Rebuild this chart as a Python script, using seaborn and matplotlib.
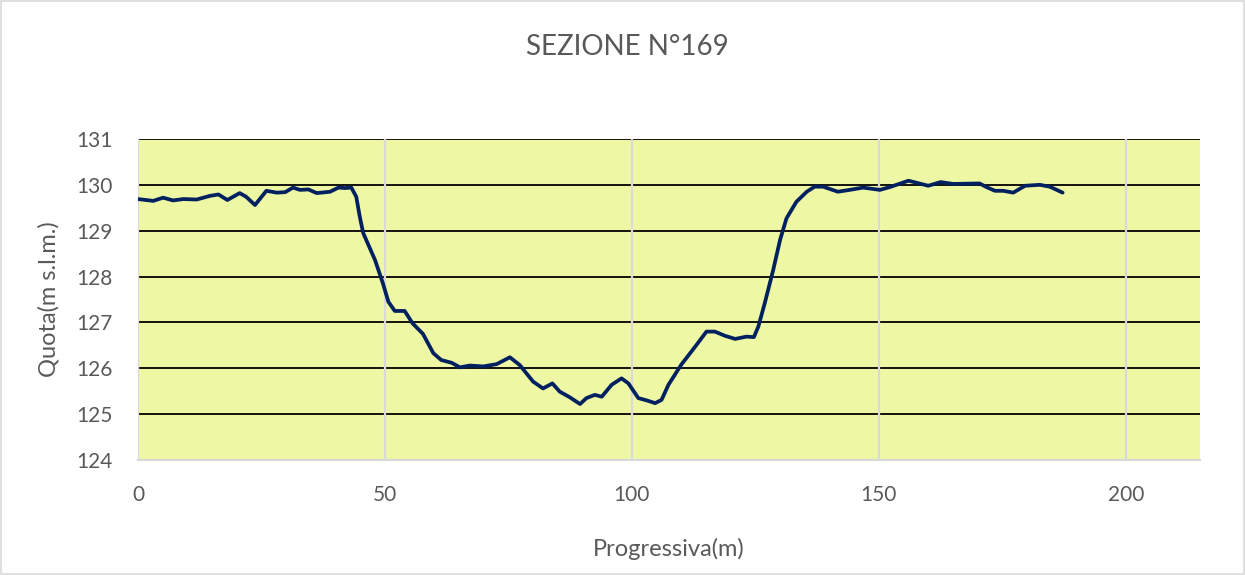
import matplotlib
matplotlib.use("Agg")
import matplotlib.pyplot as plt
import numpy as np
import pandas as pd
import seaborn as sns
from matplotlib.patches import Rectangle

# Profile data
progressiva = [
    0, 3.1, 5.1, 7.1, 9.2, 11.9, 14.6, 16.3, 18.1, 20.6, 21.9, 23.7, 26.0, 28.1,
    29.8, 31.4, 32.8, 34.5, 36.2, 38.9, 40.6, 41.9, 43.2, 44.2, 44.9, 45.6, 48.0,
    49.6, 50.7, 52.0, 54.0, 55.6, 57.7, 59.8, 61.4, 63.5, 65.2, 67.2, 69.9, 72.6,
    75.3, 77.3, 80.0, 82.0, 83.9, 85.4, 87.4, 89.5, 90.8, 92.5, 93.9, 95.9, 97.9,
    99.3, 101.3, 103.0, 104.7, 106.0, 107.4, 110.0, 112.8, 115.1, 116.8, 118.8,
    120.9, 123.2, 124.7, 125.6, 126.9, 128.6, 130.0, 131.3, 133.3, 135.4, 137.0,
    138.7, 141.7, 144.1, 146.8, 150.2, 152.2, 156.0, 160.0, 162.5, 165.0, 170.4,
    171.8, 173.5, 175.2, 177.2, 179.6, 182.6, 184.6, 187.2,
]
quota = [
    129.69, 129.65, 129.72, 129.66, 129.69, 129.68, 129.76, 129.79, 129.67, 129.82,
    129.74, 129.56, 129.87, 129.83, 129.84, 129.94, 129.89, 129.90, 129.82, 129.85,
    129.94, 129.93, 129.94, 129.74, 129.31, 128.95, 128.36, 127.85, 127.45, 127.25,
    127.25, 126.98, 126.75, 126.33, 126.18, 126.12, 126.02, 126.06, 126.04, 126.09,
    126.24, 126.07, 125.71, 125.56, 125.67, 125.49, 125.37, 125.22, 125.35, 125.42,
    125.38, 125.64, 125.78, 125.67, 125.35, 125.30, 125.24, 125.31, 125.64, 126.08,
    126.47, 126.80, 126.80, 126.71, 126.64, 126.69, 126.68, 126.91, 127.42, 128.14,
    128.80, 129.27, 129.63, 129.85, 129.96, 129.96, 129.85, 129.89, 129.94, 129.89,
    129.95, 130.09, 129.98, 130.06, 130.02, 130.03, 129.95, 129.87, 129.87, 129.83,
    129.98, 130.00, 129.96, 129.83,
]
x_ticks = [0, 50, 100, 150, 200]
y_ticks = [124, 125, 126, 127, 128, 129, 130, 131]

df = pd.DataFrame({"Progressiva": progressiva, "Quota": quota})

sns.set_theme(style="white")
plt.rcParams["font.family"] = ["Lato", "DejaVu Sans"]

text_color = "#595959"
fig = plt.figure(figsize=(12.45, 5.75), dpi=100)
ax = fig.add_axes([0.1108, 0.2, 0.853, 0.5583])
ax.set_facecolor("#EEF8A4")

sns.lineplot(data=df, x="Progressiva", y="Quota", ax=ax, color="#002060",
             linewidth=2.7, sort=False, solid_joinstyle="round",
             solid_capstyle="round")

ax.set_xlim(0, 215)
ax.set_ylim(124, 131)
ax.set_xticks(x_ticks)
ax.set_yticks(y_ticks)

# Grid: dark horizontal lines, light vertical lines
for yv in y_ticks[1:]:
    ax.axhline(yv, color="#000000", linewidth=1.3, zorder=1)
for xv in x_ticks:
    ax.axvline(xv, color="#D9D9D9", linewidth=1.6, zorder=1)

for side in ["top", "right", "left"]:
    ax.spines[side].set_visible(False)
ax.spines["bottom"].set_color("#D9D9D9")
ax.spines["bottom"].set_linewidth(1.6)

ax.tick_params(axis="both", length=0, labelsize=15, labelcolor=text_color, pad=18)
ax.set_xlabel("Progressiva(m)", fontsize=17, color=text_color, labelpad=24)
ax.set_ylabel("Quota(m s.l.m.)", fontsize=17, color=text_color, labelpad=12)

fig.text(0.504, 0.918, "SEZIONE N°169", ha="center", va="center",
         fontsize=20, color=text_color)

# Light border around the whole chart
fig.patches.append(Rectangle((0.001, 0.001), 0.998, 0.997, transform=fig.transFigure,
                             fill=False, edgecolor="#D9D9D9", linewidth=1.2))

fig.savefig("out.png", dpi=100)
